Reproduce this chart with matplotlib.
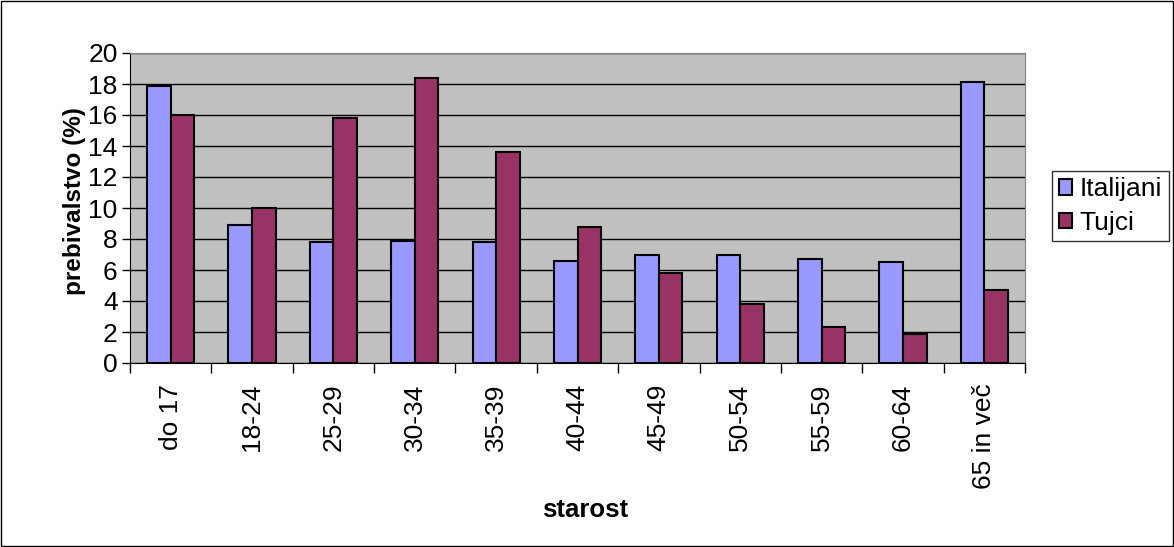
import numpy as np
import matplotlib.pyplot as plt
from matplotlib.patches import Rectangle

plt.rcParams['font.family'] = ['Liberation Sans', 'DejaVu Sans']

# podatki
starost = ['do 17', '18-24', '25-29', '30-34', '35-39', '40-44',
           '45-49', '50-54', '55-59', '60-64', '65 in več']
italijani = [17.9, 8.9, 7.8, 7.9, 7.8, 6.6, 7.0, 7.0, 6.7, 6.5, 18.1]
tujci = [16.0, 10.0, 15.8, 18.4, 13.6, 8.8, 5.8, 3.8, 2.3, 1.9, 4.7]

fs = 19

fig = plt.figure(figsize=(11.74, 5.47), dpi=100)
ax = fig.add_axes([130/1174, 1 - 363/547, 895/1174, 310/547])

x = np.arange(len(starost))
w = 0.29
ax.bar(x - w/2, italijani, w, color='#9999FF', edgecolor='black', linewidth=1.5,
       label='Italijani', zorder=3)
ax.bar(x + w/2, tujci, w, color='#993366', edgecolor='black', linewidth=1.5,
       label='Tujci', zorder=3)

ax.set_facecolor('#C0C0C0')
ax.set_xlim(-0.5, len(starost) - 0.5)
ax.set_ylim(0, 20)
ax.set_yticks(range(0, 21, 2))
ax.yaxis.grid(True, color='black', linewidth=1, zorder=1)
ax.tick_params(axis='y', labelsize=fs, direction='out', length=6, width=1, pad=3)

ax.set_xticks(x)
ax.set_xticklabels(starost, rotation=90, fontsize=fs)
ax.tick_params(axis='x', length=0, pad=15)
ax.set_xticks(np.arange(-0.5, len(starost)), minor=True)
ax.tick_params(axis='x', which='minor', direction='out', length=7, width=1)

for s in ['top', 'right']:
    ax.spines[s].set_color('#808080')
ax.spines['left'].set_color('black')
ax.spines['bottom'].set_color('black')

fig.text(75/1174, 1 - 201/547, 'prebivalstvo (%)', fontsize=17.5, fontweight='bold',
         rotation=90, ha='center', va='center')
fig.text(585/1174, 1 - 510/547, 'starost', fontsize=18.5, fontweight='bold',
         ha='center', va='center')

leg = ax.legend(loc='center left', bbox_to_anchor=(1052/1174, 1 - 206/547),
                bbox_transform=fig.transFigure, fontsize=fs, frameon=True,
                fancybox=False, edgecolor='black', handlelength=0.5,
                handleheight=0.5, handletextpad=0.3, borderpad=0.25,
                labelspacing=0.35, borderaxespad=0)
leg.get_frame().set_linewidth(1)

fig.patches.append(Rectangle((0.001, 0.002), 0.998, 0.996, transform=fig.transFigure,
                             fill=False, edgecolor='black', linewidth=1))

fig.savefig('out.png', dpi=100)
